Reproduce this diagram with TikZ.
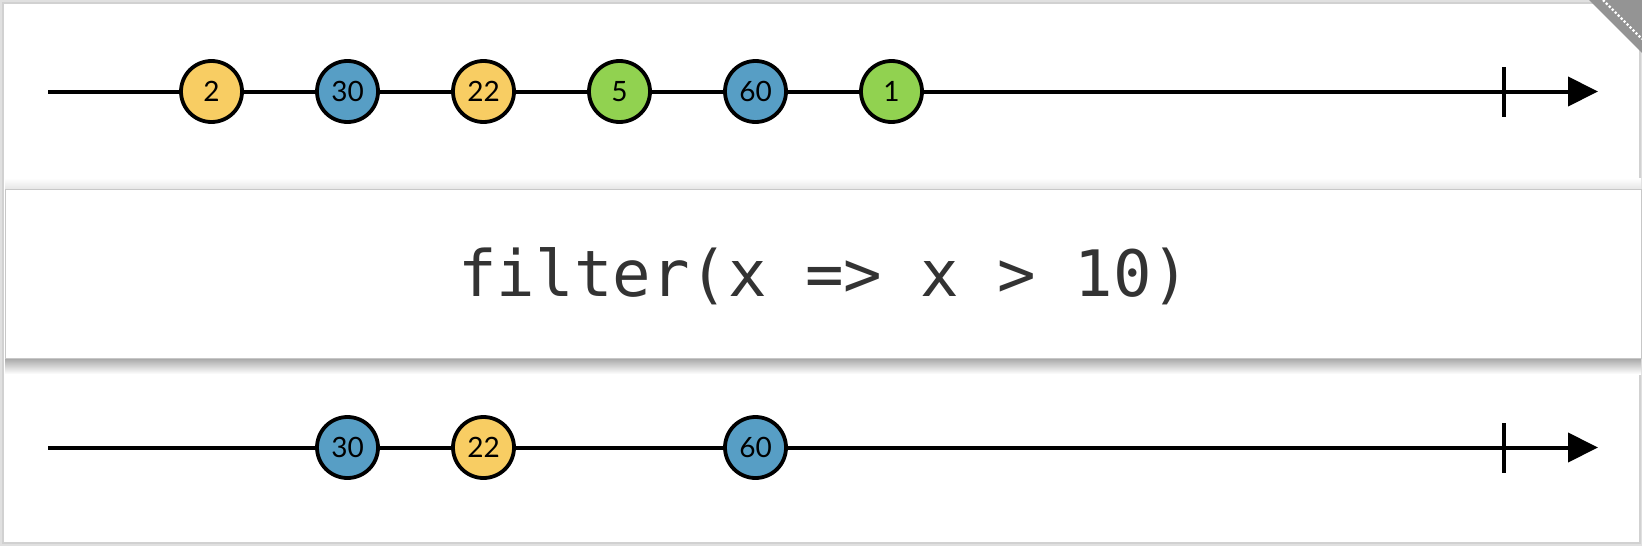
\documentclass[tikz,border=0pt]{standalone}
\usepackage{fontspec}
\setmainfont{Lato}
\newfontfamily\codefont{DejaVu Sans Mono}
\usetikzlibrary{arrows.meta}
\definecolor{myellow}{RGB}{248,205,99}
\definecolor{mblue}{RGB}{87,158,197}
\definecolor{mgreen}{RGB}{145,210,80}
\definecolor{codegray}{RGB}{51,51,51}
\tikzset{
  marble/.style={circle, draw=black, line width=3.8pt, minimum size=61pt, inner sep=0pt,
    font=\fontsize{28}{28}\selectfont},
  yel/.style={marble, fill=myellow},
  blu/.style={marble, fill=mblue},
  grn/.style={marble, fill=mgreen},
  timeline/.style={line width=4pt, -{Triangle[length=30pt,width=29pt]}},
  tick/.style={line width=4pt},
}
\begin{document}
\begin{tikzpicture}[x=1pt,y=-1pt]
\useasboundingbox (0,0) rectangle (1642,546);
\fill[black!12] (0,0) rectangle (1642,546);
\fill[white] (3,3) rectangle (1640,543);
\draw[black!18, line width=1.5pt] (3,3) rectangle (1640,543);
% corner fold
\fill[black!42] (1589,0) -- (1642,0) -- (1642,53) -- cycle;
\draw[white, line width=2.2pt, dotted] (1603,0) -- (1642,39);
% top timeline
\coordinate (ts) at (48,91.5);
\coordinate (te) at (1598,91.5);
\draw[timeline] (ts) -- (te);
\coordinate (tk1) at (1504,67);
\coordinate (tk2) at (1504,117);
\draw[tick] (tk1) -- (tk2);
\node[yel] (a1) at (211.5,91.5) {2};
\node[blu] (a2) at (347.5,91.5) {30};
\node[yel] (a3) at (483.5,91.5) {22};
\node[grn] (a4) at (619.5,91.5) {5};
\node[blu] (a5) at (755.5,91.5) {60};
\node[grn] (a6) at (891.5,91.5) {1};
% operator box
\shade[top color=white, bottom color=black!10] (5,178) rectangle (1641,189);
\shade[top color=black!35, bottom color=white] (5,358) rectangle (1641,374);
\node[draw=black!22, fill=white, line width=1.2pt, minimum width=1636pt, minimum height=169pt,
  anchor=north west, inner sep=0pt] (op) at (5,189) {};
\node[font=\codefont\fontsize{64}{64}\selectfont, text=codegray, anchor=base, inner sep=0pt]
  (optext) at (824.5,296) {filter(x => x > 10)};
% bottom timeline
\coordinate (bs) at (48,447.5);
\coordinate (be) at (1598,447.5);
\draw[timeline] (bs) -- (be);
\coordinate (bk1) at (1504,423);
\coordinate (bk2) at (1504,473);
\draw[tick] (bk1) -- (bk2);
\node[blu] (b1) at (347.5,447.5) {30};
\node[yel] (b2) at (483.5,447.5) {22};
\node[blu] (b3) at (755.5,447.5) {60};
\end{tikzpicture}
\end{document}
